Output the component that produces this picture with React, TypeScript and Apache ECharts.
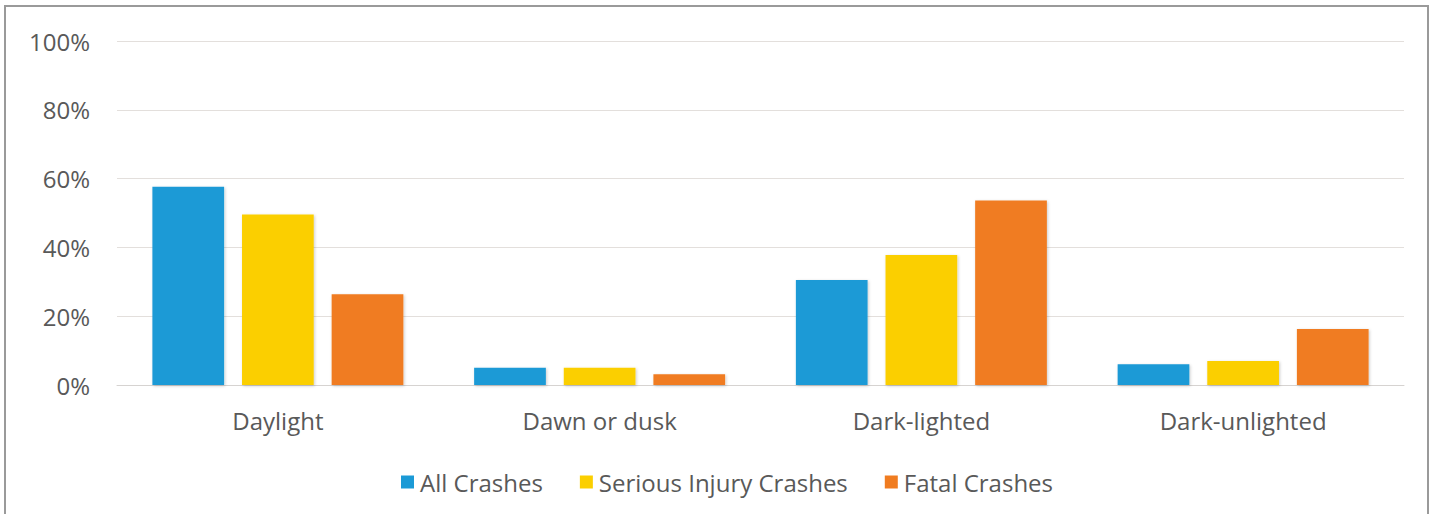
import React, { useEffect, useRef } from "react";
import * as echarts from "echarts";

const categories = ["Daylight", "Dawn or dusk", "Dark-lighted", "Dark-unlighted"];
const allCrashes = [57.6, 5.0, 30.5, 6.0];
const seriousInjuryCrashes = [49.6, 5.0, 37.8, 7.0];
const fatalCrashes = [26.4, 3.1, 53.6, 16.3];
const seriesNames = ["All Crashes", "Serious Injury Crashes", "Fatal Crashes"];
const colors = ["#1b9ad6", "#fbcf00", "#f07c20"];
const yTicks = { min: 0, max: 100, interval: 20 };

const FONT = "'Open Sans', sans-serif";
const TEXT = "#595959";

export default function App() {
  const ref = useRef<HTMLDivElement>(null);
  useEffect(() => {
    if (!ref.current) return;
    const chart = echarts.init(ref.current, null, { renderer: "svg" });
    const data = [allCrashes, seriousInjuryCrashes, fatalCrashes];
    chart.setOption({
      animation: false,
      backgroundColor: "#ffffff",
      grid: { left: 117, right: 30, top: 41, bottom: 129 },
      graphic: [
        {
          type: "rect",
          shape: { x: 5, y: 6, width: 1423, height: 530 },
          style: { fill: "none", stroke: "#9a9a9a", lineWidth: 2 },
          silent: true,
        },
      ],
      legend: {
        left: 396,
        top: 464,
        itemWidth: 13,
        itemHeight: 13,
        itemGap: 37,
        icon: "rect",
        data: seriesNames,
        textStyle: { fontFamily: FONT, fontSize: 24, color: TEXT, lineHeight: 26, padding: [0, 0, 0, 1] },
      },
      xAxis: {
        type: "category",
        data: categories,
        axisLine: { lineStyle: { color: "#d6d3d1", width: 1 } },
        axisTick: { show: false },
        axisLabel: { fontFamily: FONT, fontSize: 24, color: TEXT, margin: 22, lineHeight: 26 },
      },
      yAxis: {
        type: "value",
        min: yTicks.min,
        max: yTicks.max,
        interval: yTicks.interval,
        axisLine: { show: false },
        axisTick: { show: false },
        splitLine: { lineStyle: { color: "#e3dfdc", width: 1 } },
        axisLabel: {
          fontFamily: FONT,
          fontSize: 24,
          color: TEXT,
          margin: 27,
          formatter: (v: number) => v + "%",
        },
      },
      series: seriesNames.map((name, i) => ({
        name,
        type: "bar",
        data: data[i],
        barCategoryGap: "22%",
        barGap: "25%",
        itemStyle: {
          color: colors[i],
          shadowBlur: 3,
          shadowColor: "rgba(0,0,0,0.2)",
          shadowOffsetX: 1,
          shadowOffsetY: 1,
        },
      })),
    });
    return () => chart.dispose();
  }, []);
  return (
    <div
      ref={ref}
      style={{ position: "absolute", left: 0, top: 0, width: 1434, height: 514 }}
    />
  );
}
